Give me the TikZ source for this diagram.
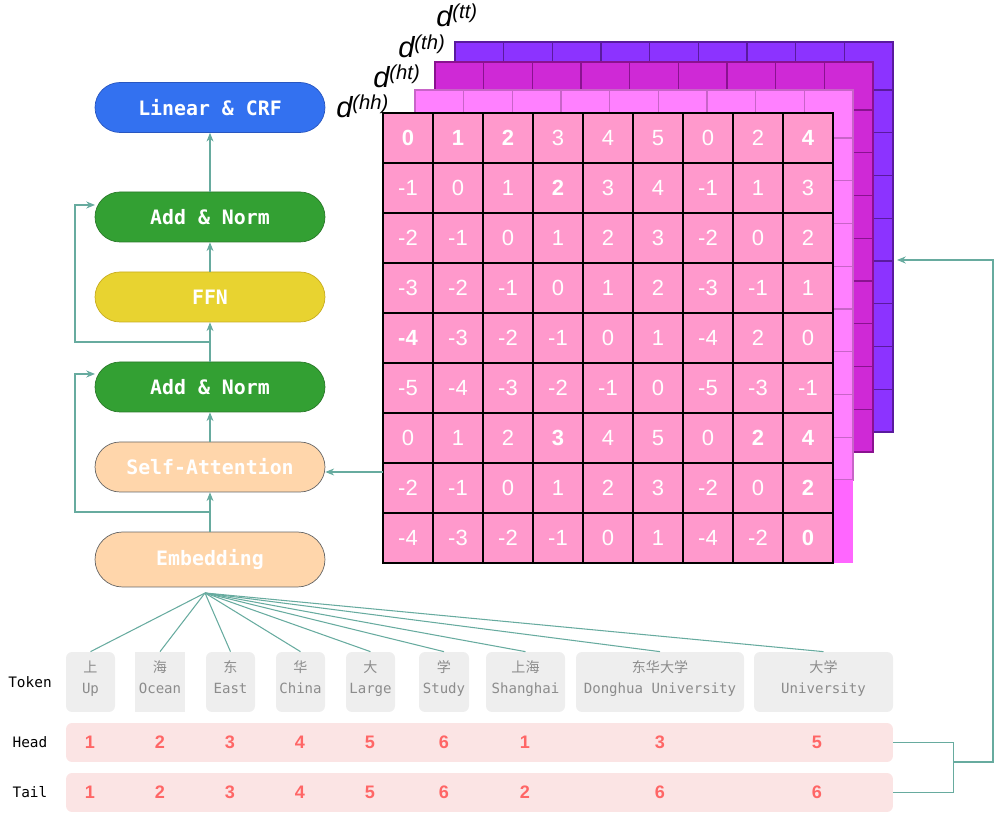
\documentclass[tikz,border=0pt]{standalone}
\usepackage{fontspec}
\setmainfont{Liberation Sans}
\setmonofont{DejaVu Sans Mono}
\newfontfamily\cjk{Noto Sans CJK SC}
\usetikzlibrary{arrows.meta}

\definecolor{linkc}{HTML}{67AB9F}
\definecolor{crfc}{HTML}{3371F0}
\definecolor{crfline}{HTML}{2856C0}
\definecolor{normc}{HTML}{33A033}
\definecolor{normline}{HTML}{2A7A2A}
\definecolor{ffnc}{HTML}{E8D330}
\definecolor{ffnline}{HTML}{C8AC20}
\definecolor{peachc}{HTML}{FFD6AB}
\definecolor{peachline}{HTML}{666666}
\definecolor{cellc}{HTML}{FF99CC}
\definecolor{ttfill}{HTML}{8C33FF}
\definecolor{ttline}{HTML}{5A1A9E}
\definecolor{thfill}{HTML}{CF29D6}
\definecolor{thline}{HTML}{8A1290}
\definecolor{hhfill}{HTML}{FF80FF}
\definecolor{hhline}{HTML}{C864C8}
\definecolor{hhstrip}{HTML}{FF66FF}
\definecolor{tokc}{HTML}{EEEEEE}
\definecolor{toktext}{HTML}{8C8C8C}
\definecolor{rowc}{HTML}{FBE4E4}
\definecolor{numc}{HTML}{FF6666}

\newcommand{\bnum}[1]{\textbf{#1}}
\newcommand{\dsup}[1]{d{\fontsize{11.5}{11.5}\selectfont\raisebox{5pt}{(#1)}}}

\begin{document}
\begin{tikzpicture}[x=0.02cm, y=-0.02cm,
  pill/.style={rounded corners=0.5cm, minimum width=4.6cm, minimum height=1cm,
    inner sep=0, text=white, font=\ttfamily\bfseries\fontsize{11.3}{13}\selectfont},
  link/.style={draw=linkc, line width=0.6pt},
  tip/.style={-{Stealth[length=5pt,width=4pt]}},
  cell/.style={draw=black, line width=0.6pt, fill=cellc, minimum size=1cm, inner sep=0,
    text=white, font=\fontsize{12.5}{12.5}\selectfont},
  dlab/.style={anchor=base west, inner sep=0, text depth=0pt,
    font=\itshape\fontsize{16.5}{16.5}\selectfont},
  tokbox/.style={fill=tokc, minimum height=1.2cm, inner sep=0},
  toktxt/.style={anchor=base, inner sep=0, text=toktext,
    font=\ttfamily\fontsize{8}{10}\selectfont},
  rowbar/.style={fill=rowc, rounded corners=0.12cm, minimum width=16.54cm,
    minimum height=0.78cm, inner sep=0},
  hnum/.style={text=numc, inner sep=0, font=\bfseries\fontsize{10.3}{12}\selectfont},
  sidelab/.style={inner sep=0, font=\ttfamily\fontsize{8.2}{10}\selectfont}]
  \useasboundingbox (0,0) rectangle (1005,813);

  % back layers of the distance tensor
  \foreach \lx/\ly/\lf/\ld in {455/42/ttfill/ttline, 435/62/thfill/thline, 415/90/hhfill/hhline} {
    \fill[\lf] (\lx,\ly) rectangle ++(438,390);
    \foreach \k in {1,...,8}
      \draw[\ld, line width=0.6pt] (\lx+48.67*\k,\ly) -- ++(0,390);
    \foreach \k in {0,...,7}
      \draw[\ld, line width=0.6pt] (\lx,\ly+48+42.75*\k) -- ++(438,0);
    \draw[\ld, line width=0.6pt] (\lx,\ly) rectangle ++(438,390);
  }
  \fill[hhstrip] (833,480) rectangle (853,563);

  % front layer d(hh)
  \foreach \row [count=\r] in {
      {\bnum{0},\bnum{1},\bnum{2},3,4,5,0,2,\bnum{4}},
      {-1,0,1,\bnum{2},3,4,-1,1,3},
      {-2,-1,0,1,2,3,-2,0,2},
      {-3,-2,-1,0,1,2,-3,-1,1},
      {\bnum{-4},-3,-2,-1,0,1,-4,2,0},
      {-5,-4,-3,-2,-1,0,-5,-3,-1},
      {0,1,2,\bnum{3},4,5,0,\bnum{2},\bnum{4}},
      {-2,-1,0,1,2,3,-2,0,\bnum{2}},
      {-4,-3,-2,-1,0,1,-4,-2,\bnum{0}}}
    \foreach \v [count=\c] in \row
      \node[cell] (m\r\c) at (358+50*\c,88+50*\r) {\v};

  \node[dlab] (dhh) at (336,118) {\dsup{hh}};
  \node[dlab] (dht) at (373,88) {\dsup{ht}};
  \node[dlab] (dth) at (398,58) {\dsup{th}};
  \node[dlab] (dtt) at (436,27) {\dsup{tt}};

  % encoder stack
  \node[pill, fill=crfc, draw=crfline] (crf) at (210,107.5) {Linear \& CRF};
  \node[pill, fill=normc, draw=normline] (norm2) at (210,217) {Add \& Norm};
  \node[pill, fill=ffnc, draw=ffnline] (ffn) at (210,297) {FFN};
  \node[pill, fill=normc, draw=normline] (norm1) at (210,387) {Add \& Norm};
  \node[pill, fill=peachc, draw=peachline] (att) at (210,467) {Self-Attention};
  \node[pill, fill=peachc, draw=peachline, minimum height=1.1cm, rounded corners=0.55cm]
    (emb) at (210,559.5) {Embedding};

  \draw[link, tip] (emb) -- (att);
  \draw[link, tip] (att) -- (norm1);
  \draw[link, tip] (norm1) -- (ffn);
  \draw[link, tip] (ffn) -- (norm2);
  \draw[link, tip] (norm2) -- (crf);

  \coordinate (res1) at (210,512);
  \coordinate (res1in) at (95,374);
  \draw[link, tip] (res1) -- ++(-135,0) |- (res1in);
  \coordinate (res2) at (210,342);
  \coordinate (res2in) at (95,205);
  \draw[link, tip] (res2) -- ++(-135,0) |- (res2in);

  \coordinate (mout) at (383,472);
  \draw[link, tip] (mout) -- (att.east |- mout);

  % tokens
  \node[sidelab] (toklab) at (30,682) {Token};
  \node[sidelab] (headlab) at (30,742) {Head};
  \node[sidelab] (taillab) at (30,792) {Tail};

  \coordinate (fan) at (205,593);
  \foreach \nm/\cx/\w/\rc/\zh/\en in {
      up/90.5/49/0.12/上/Up, ocean/160/50/0/海/Ocean, east/230.5/49/0.12/东/East,
      china/300.5/49/0.12/华/China, large/370.5/49/0.12/大/Large,
      study/444/50/0.12/学/Study, shanghai/525.5/79/0.12/上海/Shanghai,
      donghua/660/168/0.12/东华大学/Donghua University,
      univ/823.5/139/0.12/大学/University} {
    \node[tokbox, rounded corners=\rc cm, minimum width=\w*0.02cm] (\nm) at (\cx,682) {};
    \node[toktxt] (\nm-zh) at (\cx,672.5) {\cjk\zh};
    \node[toktxt] (\nm-en) at (\cx,694) {\en};
    \draw[link] (fan) -- (\nm.north);
  }

  \node[rowbar] (head) at (479.5,742.5) {};
  \node[rowbar] (tail) at (479.5,792.5) {};
  \foreach \cx/\h/\t in {90/1/1, 160/2/2, 230/3/3, 300/4/4, 370/5/5, 444/6/6,
      525/1/2, 660/3/6, 817/5/6} {
    \node[hnum] (h\cx) at (\cx,742) {\h};
    \node[hnum] (t\cx) at (\cx,792) {\t};
  }

  \draw[link] (head.east) -- ++(60,0) |- (tail.east);
  \coordinate (join) at (953,762);
  \coordinate (gridin) at (897,260);
  \draw[link, tip] (join) -- ++(40,0) |- (gridin);
\end{tikzpicture}
\end{document}
